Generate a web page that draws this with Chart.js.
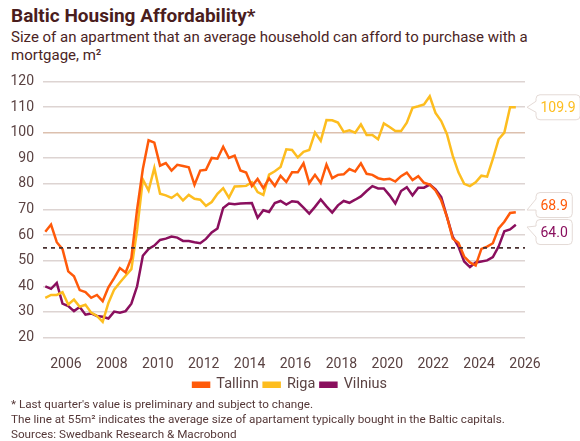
<!DOCTYPE html>
<html>
<head>
<meta charset="utf-8">
<script src="https://cdn.jsdelivr.net/npm/chart.js@4.4.1/dist/chart.umd.min.js"></script>
<style>
    body { margin: 0; width: 580px; height: 441px; overflow: hidden; background: #fff;
           font-family: Roboto, 'Noto Sans', sans-serif; color: #553333; position: relative; }
    #title { position: absolute; left: 11px; top: 4px; font-size: 19px; font-weight: 700; color: #4a1d1d; }
    #subtitle { position: absolute; left: 11px; top: 28px; font-size: 15px; line-height: 18px; color: #4a2424; }
    #chartBox { position: absolute; left: 0; top: 64px; width: 580px; height: 338px; }
    #notes { position: absolute; left: 11px; top: 397px; font-size: 11.7px; line-height: 15px; color: #553838; }
</style>
</head>
<body>
<div id="title">Baltic Housing Affordability*</div>
<div id="subtitle">Size of an apartment that an average household can afford to purchase with a<br>mortgage, m²</div>
<div id="chartBox"><canvas id="housingChart"></canvas></div>
<div id="notes">
    * Last quarter's value is preliminary and subject to change.<br>
    The line at 55m² indicates the average size of apartament typically bought in the Baltic capitals.<br>
    Sources: Swedbank Research &amp; Macrobond
</div>

<script>
// Quarterly series, 2005Q1 .. 2025Q3
const START_YEAR = 2005;
const YEAR_TICKS = [2006, 2008, 2010, 2012, 2014, 2016, 2018, 2020, 2022, 2024, 2026];
const Y_TICKS = [20, 30, 40, 50, 60, 70, 80, 90, 100, 110, 120];
const REF_LEVEL = 55;

const TALLINN = [
    61.3, 64.1, 57.2, 54.5, 45.8, 43.9, 38.5, 37.7, 35.5, 36.6,
    34.2, 39.6, 43.2, 47.1, 45.4, 51.1, 70.0, 85.8, 97.0, 96.1,
    87.1, 88.1, 85.2, 87.4, 87.0, 86.5, 79.6, 85.2, 85.5, 90.1,
    89.8, 94.5, 90.1, 91.0, 85.2, 84.4, 79.1, 81.9, 78.3, 82.1,
    79.2, 83.1, 80.7, 84.5, 84.5, 88.0, 80.3, 83.5, 80.3, 87.5,
    82.2, 83.5, 83.7, 85.8, 84.8, 88.0, 83.9, 83.5, 82.2, 81.7,
    82.0, 80.9, 83.0, 84.4, 81.5, 83.0, 80.4, 79.7, 77.4, 73.5,
    67.1, 58.7, 57.0, 51.6, 49.3, 48.1, 54.6, 55.5, 56.8, 62.6,
    65.2, 68.6, 68.9
];
const RIGA = [
    35.5, 36.6, 36.6, 37.7, 32.9, 34.8, 32.0, 32.8, 29.7, 28.4,
    26.1, 33.5, 38.7, 41.5, 44.1, 46.7, 62.0, 81.7, 77.4, 86.2,
    76.1, 75.5, 74.5, 76.1, 73.5, 75.7, 74.2, 73.8, 71.4, 72.9,
    76.1, 78.3, 74.6, 79.0, 79.1, 79.2, 80.6, 76.8, 75.7, 83.6,
    84.9, 86.6, 93.5, 93.2, 90.3, 92.5, 93.2, 100.0, 96.8, 104.9,
    104.8, 103.9, 100.3, 100.9, 100.0, 103.2, 99.1, 99.1, 97.4, 103.6,
    102.2, 100.6, 100.6, 103.9, 109.7, 110.3, 111.0, 114.2, 107.7, 104.5,
    99.4, 91.0, 84.5, 80.0, 79.1, 80.6, 83.2, 82.8, 89.7, 97.4,
    100.0, 109.9, 109.9
];
const VILNIUS = [
    40.0, 39.0, 41.3, 33.2, 32.3, 30.3, 31.9, 28.9, 29.4, 28.4,
    28.1, 27.4, 30.1, 29.7, 30.3, 33.2, 40.0, 51.9, 54.6, 55.9,
    58.1, 58.6, 59.4, 59.0, 57.7, 57.7, 57.2, 56.8, 58.5, 61.0,
    62.6, 70.6, 72.3, 72.0, 72.3, 72.4, 72.5, 66.8, 69.7, 69.0,
    72.5, 73.3, 71.9, 73.2, 72.9, 70.7, 68.4, 71.0, 73.9, 71.2,
    68.8, 71.6, 73.3, 72.6, 73.8, 75.1, 77.2, 79.1, 78.2, 78.2,
    75.5, 72.3, 77.2, 78.7, 75.5, 78.5, 78.5, 79.7, 77.8, 74.8,
    67.1, 59.4, 55.5, 49.7, 47.5, 49.3, 49.7, 50.1, 51.4, 55.5,
    61.5, 62.2, 64.0
];

const COLORS = { tallinn: '#ff5a0a', riga: '#fdbd1f', vilnius: '#8a0f5e' };
const TEXT = '#5a4242';

// quarter index -> decimal year (a little inside each quarter)
const toXY = arr => arr.map((v, i) => ({ x: START_YEAR + i / 4 + 0.1, y: v }));

// callout boxes with the last value of every city, pushed apart when they collide
const lastValueLabels = {
    id: 'lastValueLabels',
    afterDatasetsDraw(chart) {
        const { ctx, chartArea, scales } = chart;
        const items = [];
        chart.data.datasets.forEach(ds => {
            if (!ds.callout) return;
            const last = ds.data[ds.data.length - 1].y;
            const py = scales.y.getPixelForValue(last);
            items.push({ text: last.toFixed(1), color: ds.borderColor, py, cy: py });
        });
        items.sort((a, b) => a.py - b.py);
        const gap = 27;
        for (let pass = 0; pass < 5; pass++) {
            for (let i = 1; i < items.length; i++) {
                const d = items[i].cy - items[i - 1].cy;
                if (d < gap) {
                    const push = (gap - d) / 2;
                    items[i - 1].cy -= push;
                    items[i].cy += push;
                }
            }
        }
        ctx.save();
        ctx.font = '14px Roboto, sans-serif';
        ctx.textBaseline = 'middle';
        items.forEach(it => {
            const left = chartArea.right + 11, h = 25, r = 4;
            const w = ctx.measureText(it.text).width + 9;
            const top = it.cy - h / 2;
            const tipX = chartArea.right + 2;
            const tipY = it.cy + Math.max(-5, Math.min(5, it.py - it.cy));
            ctx.beginPath();
            ctx.moveTo(left + r, top);
            ctx.lineTo(left + w - r, top);
            ctx.arcTo(left + w, top, left + w, top + r, r);
            ctx.lineTo(left + w, top + h - r);
            ctx.arcTo(left + w, top + h, left + w - r, top + h, r);
            ctx.lineTo(left + r, top + h);
            ctx.arcTo(left, top + h, left, top + h - r, r);
            ctx.lineTo(left, it.cy + 5);
            ctx.lineTo(tipX, tipY);
            ctx.lineTo(left, it.cy - 6);
            ctx.lineTo(left, top + r);
            ctx.arcTo(left, top, left + r, top, r);
            ctx.closePath();
            ctx.fillStyle = '#fff';
            ctx.fill();
            ctx.strokeStyle = '#e4dad6';
            ctx.lineWidth = 1;
            ctx.stroke();
            ctx.fillStyle = it.color;
            ctx.textAlign = 'left';
            ctx.fillText(it.text, left + 4.5, it.cy + 1);
        });
        ctx.restore();
    }
};

const lineSet = (label, values, color) => ({
    label, data: toXY(values), borderColor: color, backgroundColor: color,
    borderWidth: 2.5, pointRadius: 0, tension: 0, callout: true
});

new Chart(document.getElementById('housingChart'), {
    type: 'line',
    data: {
        datasets: [
            {
                label: 'ref', data: [{ x: START_YEAR, y: REF_LEVEL }, { x: 2026, y: REF_LEVEL }],
                borderColor: '#4a3030', borderWidth: 1.6, borderDash: [4, 4], pointRadius: 0
            },
            lineSet('Tallinn', TALLINN, COLORS.tallinn),
            lineSet('Riga', RIGA, COLORS.riga),
            lineSet('Vilnius', VILNIUS, COLORS.vilnius)
        ]
    },
    options: {
        responsive: true,
        maintainAspectRatio: false,
        animation: false,
        layout: { padding: { top: 7, left: 0, right: 0, bottom: 0 } },
        plugins: {
            tooltip: { enabled: false },
            legend: {
                position: 'bottom',
                labels: {
                    filter: item => item.text !== 'ref',
                    boxWidth: 16, boxHeight: 4, padding: 5,
                    color: TEXT, font: { size: 14.5, family: 'Roboto' }
                }
            }
        },
        scales: {
            x: {
                type: 'linear', min: START_YEAR, max: 2026,
                grid: { display: false }, border: { display: false },
                afterBuildTicks: s => { s.ticks = YEAR_TICKS.map(v => ({ value: v })); },
                afterFit: s => { s.height = 35; },
                ticks: { color: TEXT, padding: 11, maxRotation: 0, font: { size: 14, family: 'Roboto' }, callback: v => String(v) }
            },
            y: {
                min: 20, max: 120,
                afterBuildTicks: s => { s.ticks = Y_TICKS.map(v => ({ value: v })); },
                afterFit: s => { s.width = 43; },
                border: { display: false },
                grid: {
                    drawTicks: false, lineWidth: 1.5,
                    color: c => c.tick && c.tick.value === 100 ? '#dcc0ae' : '#ddd4d2'
                },
                ticks: { color: TEXT, padding: 9, font: { size: 14, family: 'Roboto' } }
            },
            yRight: {
                position: 'right', min: 20, max: 120,
                grid: { display: false }, border: { display: false },
                ticks: { display: false },
                afterFit: s => { s.width = 55; }
            }
        }
    },
    plugins: [lastValueLabels]
});
</script>
</body>
</html>
